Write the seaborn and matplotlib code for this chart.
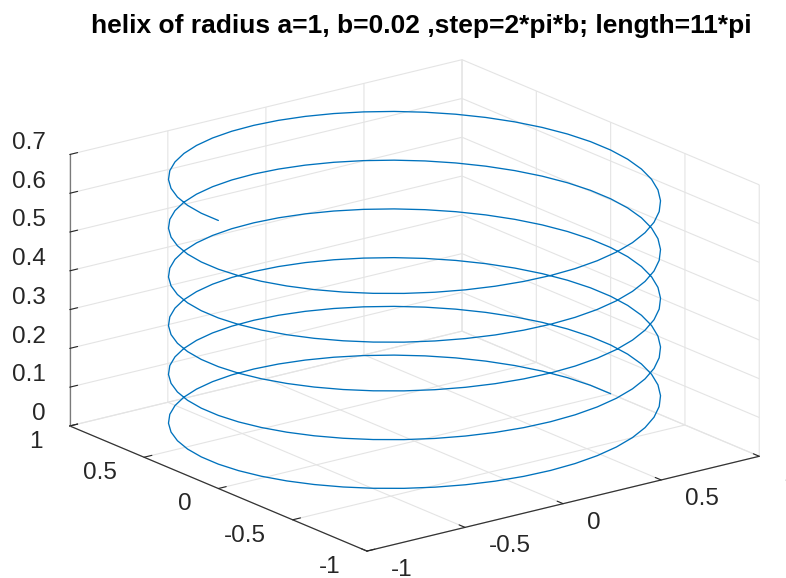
import numpy as np
import matplotlib
matplotlib.use("Agg")
import matplotlib.pyplot as plt
import seaborn as sns
from mpl_toolkits.mplot3d import proj3d

sns.set_theme(style="white")
plt.rcParams['font.family'] = ['Liberation Sans', 'DejaVu Sans']
plt.rcParams['axes.unicode_minus'] = False

# helix parameters (as given in the title)
a = 1.0
b = 0.02
step = 2 * np.pi * b
length = 11 * np.pi

# axis ticks and labels
x_ticks = [-1, -0.5, 0, 0.5, 1]
x_labels = ["-1", "-0.5", "0", "0.5", "1"]
y_ticks = [-1, -0.5, 0, 0.5, 1]
y_labels = ["-1", "-0.5", "0", "0.5", "1"]
z_ticks = [0, 0.1, 0.2, 0.3, 0.4, 0.5, 0.6, 0.7]
z_labels = ["0", "0.1", "0.2", "0.3", "0.4", "0.5", "0.6", "0.7"]

t = np.arange(0, length + step / 2, step)
x = a * np.cos(t)
y = a * np.sin(t)
z = b * t

W, H = 786, 578
fig = plt.figure(figsize=(W / 100, H / 100), dpi=100)
ax = fig.add_axes([0.1, 0.1, 0.8, 0.8], projection='3d', proj_type='ortho')
ax.set_box_aspect((1, 1, 0.582))
ax.view_init(elev=18.6, azim=-127.15)

line_color = "#0072BD"
ax.plot(x, y, z, color=line_color, lw=0.95)

ax.set_xlim(-1, 1)
ax.set_ylim(-1, 1)
ax.set_zlim(0, 0.7)
ax.set_xticks(x_ticks)
ax.set_yticks(y_ticks)
ax.set_zticks(z_ticks)

for axis in (ax.xaxis, ax.yaxis, ax.zaxis):
    axis.set_tick_params(labelbottom=False, labeltop=False)
    axis.set_pane_color((1, 1, 1, 0))
    axis.pane.set_edgecolor("#dcdcdc")
    axis.pane.set_linewidth(0.8)
    axis.line.set_linewidth(0.9)
    axis._axinfo['grid'].update({'color': '#e4e4e4', 'linewidth': 0.8,
                                 'linestyle': '-'})
    axis._axinfo['tick'].update({'inward_factor': 0.0, 'outward_factor': 0.25,
                                 'linewidth': {True: 0.8, False: 0.5},
                                 'color': '#262626'})
ax.xaxis.line.set_color("#333333")
ax.yaxis.line.set_color("#333333")
ax.zaxis.line.set_color("#7a7a7a")
ax.grid(True)

# tick labels, set just outside the box edges in data space
tick_font = dict(fontsize=17.5, color='#262626', va='center')
for v, s in zip(x_ticks, x_labels):
    ax.text(v, -1.162, -0.023, s, ha='left', **tick_font)
for v, s in zip(y_ticks, y_labels):
    ax.text(-1.137, v, -0.024, s, ha='right', **tick_font)
for v, s in zip(z_ticks, z_labels):
    ax.text(-1.0, 1.162, v + 0.004, s, ha='right', **tick_font)

fig.suptitle("helix of radius a=1, b=0.02 ,step=2*pi*b; length=11*pi",
             x=421 / W, y=1 - 33 / H, va='baseline', fontsize=19,
             fontweight='bold', color='black')

# place the box so its corners sit where intended
corners = [(-1, -1, 0), (1, -1, 0), (-1, 1, 0), (1, 1, 0.7)]
target = np.array([(367, 551), (760, 456), (70, 426), (461, 60)], float)
target[:, 1] = H - target[:, 1]


def corner_pixels():
    fig.canvas.draw()
    M = ax.get_proj()
    pts = []
    for cx, cy, cz in corners:
        xs, ys, _ = proj3d.proj_transform(cx, cy, cz, M)
        pts.append(ax.transData.transform((xs, ys)))
    return np.array(pts)


for _ in range(3):
    P = corner_pixels()
    bb = ax.get_position().transformed(fig.transFigure)
    C = np.array([(bb.x0 + bb.x1) / 2, (bb.y0 + bb.y1) / 2])
    side = bb.width
    u = (P - C) / side
    A = np.zeros((8, 3))
    rhs = np.zeros(8)
    for i in range(4):
        A[2 * i] = [1, 0, u[i, 0]]
        A[2 * i + 1] = [0, 1, u[i, 1]]
        rhs[2 * i] = target[i, 0]
        rhs[2 * i + 1] = target[i, 1]
    cx, cy, s = np.linalg.lstsq(A, rhs, rcond=None)[0]
    ax.set_position([(cx - s / 2) / W, (cy - s / 2) / H, s / W, s / H])

fig.savefig("out.png", dpi=100)
